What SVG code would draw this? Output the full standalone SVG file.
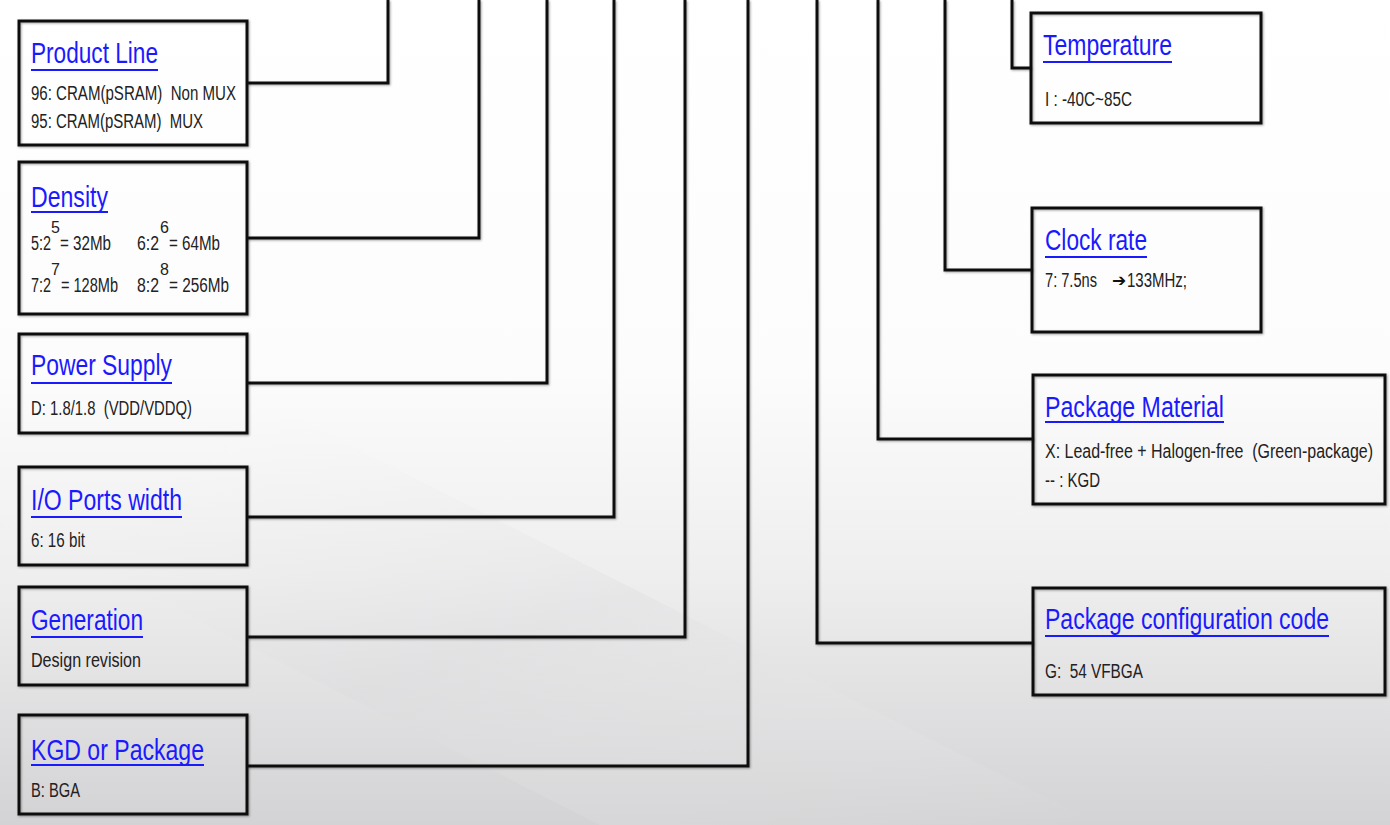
<svg xmlns="http://www.w3.org/2000/svg" width="1390" height="825" viewBox="0 0 1390 825">
<defs>
<linearGradient id="bg" x1="0" y1="0" x2="0" y2="1">
<stop offset="0" stop-color="#ffffff"/>
<stop offset="0.45" stop-color="#fdfcfd"/>
<stop offset="0.7" stop-color="#efeeef"/>
<stop offset="1" stop-color="#d3d2d4"/>
</linearGradient>
<linearGradient id="band" x1="0" y1="0" x2="1" y2="1">
<stop offset="0" stop-color="#ffffff" stop-opacity="0"/>
<stop offset="0.5" stop-color="#d8d8da" stop-opacity="0.5"/>
<stop offset="1" stop-color="#ffffff" stop-opacity="0"/>
</linearGradient>
<filter id="sh" x="-5%" y="-5%" width="110%" height="110%">
<feDropShadow dx="1" dy="1" stdDeviation="0.8" flood-color="#000" flood-opacity="0.35"/>
</filter>
</defs>
<style>
.box{fill:none;stroke:#111;stroke-width:3}
.con{fill:none;stroke:#111;stroke-width:3;stroke-linejoin:miter}
.t{font-family:"Liberation Sans",Arial,sans-serif;font-size:29px;fill:#1a1aff}
.u{stroke:#1a1aff;stroke-width:2}
.b{font-family:"Liberation Sans",Arial,sans-serif;font-size:20px;fill:#222;white-space:pre}
.s{font-family:"Liberation Sans",Arial,sans-serif;font-size:16px;fill:#222}
.ar{font-family:"DejaVu Sans",sans-serif;font-size:17px;fill:#111}
</style>
<rect width="1390" height="825" fill="url(#bg)"/>
<path d="M0 420 L300 420 L1100 825 L600 825 L0 520 Z" fill="url(#band)" opacity="0.6"/>

<g id="connectors" filter="url(#sh)">
<path class="con" d="M247 83 H388 V0"/>
<path class="con" d="M247 238 H479 V0"/>
<path class="con" d="M247 383 H547 V0"/>
<path class="con" d="M247 517 H614 V0"/>
<path class="con" d="M247 637 H685 V0"/>
<path class="con" d="M247 766 H748 V0"/>
<path class="con" d="M1031 68 H1012 V0"/>
<path class="con" d="M1032 270 H945 V0"/>
<path class="con" d="M1033 439 H878 V0"/>
<path class="con" d="M1033 643 H817 V0"/>
</g>

<g id="product-line">
<rect class="box" x="19" y="21" width="228" height="124" filter="url(#sh)"/>
<text class="t" x="31" y="63" textLength="127" lengthAdjust="spacingAndGlyphs">Product Line</text>
<line class="u" x1="31" y1="70" x2="158" y2="70"/>
<text class="b" x="31" y="100" textLength="205" lengthAdjust="spacingAndGlyphs">96: CRAM(pSRAM)  Non MUX</text>
<text class="b" x="31" y="128" textLength="172" lengthAdjust="spacingAndGlyphs">95: CRAM(pSRAM)  MUX</text>
</g>

<g id="density">
<rect class="box" x="19" y="162" width="228" height="152" filter="url(#sh)"/>
<text class="t" x="31" y="207" textLength="77" lengthAdjust="spacingAndGlyphs">Density</text>
<line class="u" x1="31" y1="212" x2="108" y2="212"/>
<text class="b" x="31" y="250" textLength="20" lengthAdjust="spacingAndGlyphs">5:2</text>
<text class="s" x="51" y="233">5</text>
<text class="b" x="60" y="250" textLength="51" lengthAdjust="spacingAndGlyphs">= 32Mb</text>
<text class="b" x="137" y="250" textLength="22" lengthAdjust="spacingAndGlyphs">6:2</text>
<text class="s" x="160" y="233">6</text>
<text class="b" x="169" y="250" textLength="51" lengthAdjust="spacingAndGlyphs">= 64Mb</text>
<text class="b" x="31" y="292" textLength="20" lengthAdjust="spacingAndGlyphs">7:2</text>
<text class="s" x="51" y="275">7</text>
<text class="b" x="61" y="292" textLength="57" lengthAdjust="spacingAndGlyphs">= 128Mb</text>
<text class="b" x="137" y="292" textLength="22" lengthAdjust="spacingAndGlyphs">8:2</text>
<text class="s" x="160" y="275">8</text>
<text class="b" x="169" y="292" textLength="60" lengthAdjust="spacingAndGlyphs">= 256Mb</text>
</g>

<g id="power-supply">
<rect class="box" x="19" y="334" width="228" height="99" filter="url(#sh)"/>
<text class="t" x="31" y="375" textLength="141" lengthAdjust="spacingAndGlyphs">Power Supply</text>
<line class="u" x1="31" y1="383" x2="172" y2="383"/>
<text class="b" x="31" y="415" textLength="161" lengthAdjust="spacingAndGlyphs">D: 1.8/1.8  (VDD/VDDQ)</text>
</g>

<g id="io-ports-width">
<rect class="box" x="19" y="467" width="228" height="98" filter="url(#sh)"/>
<text class="t" x="31" y="510" textLength="151" lengthAdjust="spacingAndGlyphs">I/O Ports width</text>
<line class="u" x1="31" y1="517" x2="182" y2="517"/>
<text class="b" x="31" y="547" textLength="54" lengthAdjust="spacingAndGlyphs">6: 16 bit</text>
</g>

<g id="generation">
<rect class="box" x="19" y="587" width="228" height="98" filter="url(#sh)"/>
<text class="t" x="31" y="630" textLength="112" lengthAdjust="spacingAndGlyphs">Generation</text>
<line class="u" x1="31" y1="637" x2="143" y2="637"/>
<text class="b" x="31" y="667" textLength="110" lengthAdjust="spacingAndGlyphs">Design revision</text>
</g>

<g id="kgd-or-package">
<rect class="box" x="19" y="715" width="228" height="99" filter="url(#sh)"/>
<text class="t" x="31" y="760" textLength="173" lengthAdjust="spacingAndGlyphs">KGD or Package</text>
<line class="u" x1="31" y1="765" x2="204" y2="765"/>
<text class="b" x="31" y="797" textLength="49" lengthAdjust="spacingAndGlyphs">B: BGA</text>
</g>

<g id="temperature">
<rect class="box" x="1031" y="13" width="230" height="110" filter="url(#sh)"/>
<text class="t" x="1043" y="55" textLength="129" lengthAdjust="spacingAndGlyphs">Temperature</text>
<line class="u" x1="1043" y1="62" x2="1172" y2="62"/>
<text class="b" x="1045" y="106" textLength="87" lengthAdjust="spacingAndGlyphs">I : -40C~85C</text>
</g>

<g id="clock-rate">
<rect class="box" x="1032" y="208" width="229" height="124" filter="url(#sh)"/>
<text class="t" x="1045" y="250" textLength="102" lengthAdjust="spacingAndGlyphs">Clock rate</text>
<line class="u" x1="1045" y1="257" x2="1147" y2="257"/>
<text class="b" x="1045" y="287" textLength="52" lengthAdjust="spacingAndGlyphs">7: 7.5ns</text>
<text class="ar" x="1112" y="286">➔</text>
<text class="b" x="1127" y="287" textLength="60" lengthAdjust="spacingAndGlyphs">133MHz;</text>
</g>

<g id="package-material">
<rect class="box" x="1033" y="375" width="352" height="129" filter="url(#sh)"/>
<text class="t" x="1045" y="417" textLength="179" lengthAdjust="spacingAndGlyphs">Package Material</text>
<line class="u" x1="1045" y1="422" x2="1224" y2="422"/>
<text class="b" x="1045" y="458" textLength="328" lengthAdjust="spacingAndGlyphs">X: Lead-free + Halogen-free  (Green-package)</text>
<text class="b" x="1045" y="487" textLength="55" lengthAdjust="spacingAndGlyphs">-- : KGD</text>
</g>

<g id="package-configuration-code">
<rect class="box" x="1033" y="588" width="352" height="107" filter="url(#sh)"/>
<text class="t" x="1045" y="629" textLength="284" lengthAdjust="spacingAndGlyphs">Package configuration code</text>
<line class="u" x1="1045" y1="636" x2="1329" y2="636"/>
<text class="b" x="1045" y="678" textLength="98" lengthAdjust="spacingAndGlyphs">G:  54 VFBGA</text>
</g>
</svg>
